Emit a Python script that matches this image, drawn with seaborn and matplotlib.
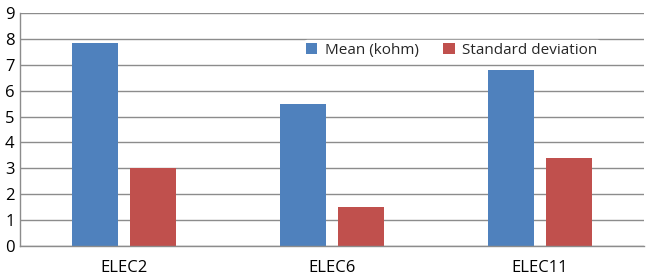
import matplotlib
matplotlib.use("Agg")
import matplotlib.pyplot as plt
import seaborn as sns
import pandas as pd

electrodes = ["ELEC2", "ELEC6", "ELEC11"]
mean_kohm = [7.86, 5.47, 6.8]
std_dev = [3.0, 1.52, 3.4]
series_names = ["Mean (kohm)", "Standard deviation"]
colors = ["#4F81BD", "#C0504D"]

df = pd.DataFrame({
    "electrode": electrodes * 2,
    "value": mean_kohm + std_dev,
    "series": [series_names[0]] * 3 + [series_names[1]] * 3,
})

sns.set_style("white")
plt.rcParams["font.family"] = ["Open Sans", "DejaVu Sans"]

fig = plt.figure(figsize=(6.46, 2.77), dpi=100)
ax = fig.add_axes([20 / 646, 31 / 277, 624 / 646, 233 / 277])

sns.barplot(data=df, x="electrode", y="value", hue="series",
            palette=colors, width=0.558, gap=0.207, ax=ax, saturation=1,
            linewidth=0)

ax.set_ylim(0, 9)
ax.set_yticks(range(0, 10))
ax.set_xlim(-0.5, 2.5)
ax.yaxis.grid(True, color="#8c8c8c", linewidth=1)
ax.set_axisbelow(True)
ax.set_xlabel("")
ax.set_ylabel("")
for s in ["top", "right"]:
    ax.spines[s].set_visible(False)
for s in ["left", "bottom"]:
    ax.spines[s].set_color("#8c8c8c")
    ax.spines[s].set_linewidth(1)
ax.tick_params(axis="both", length=0, labelsize=12, colors="black")
ax.tick_params(axis="y", pad=4)
ax.tick_params(axis="x", pad=10)

ax.legend(loc="center", bbox_to_anchor=(0.692, 0.841), ncol=2,
          frameon=True, facecolor="white", edgecolor="white", framealpha=1,
          fontsize=11, handlelength=0.75, handleheight=0.75,
          handletextpad=0.5, columnspacing=1.6, borderpad=0.15)

fig.savefig("out.png", dpi=100)
